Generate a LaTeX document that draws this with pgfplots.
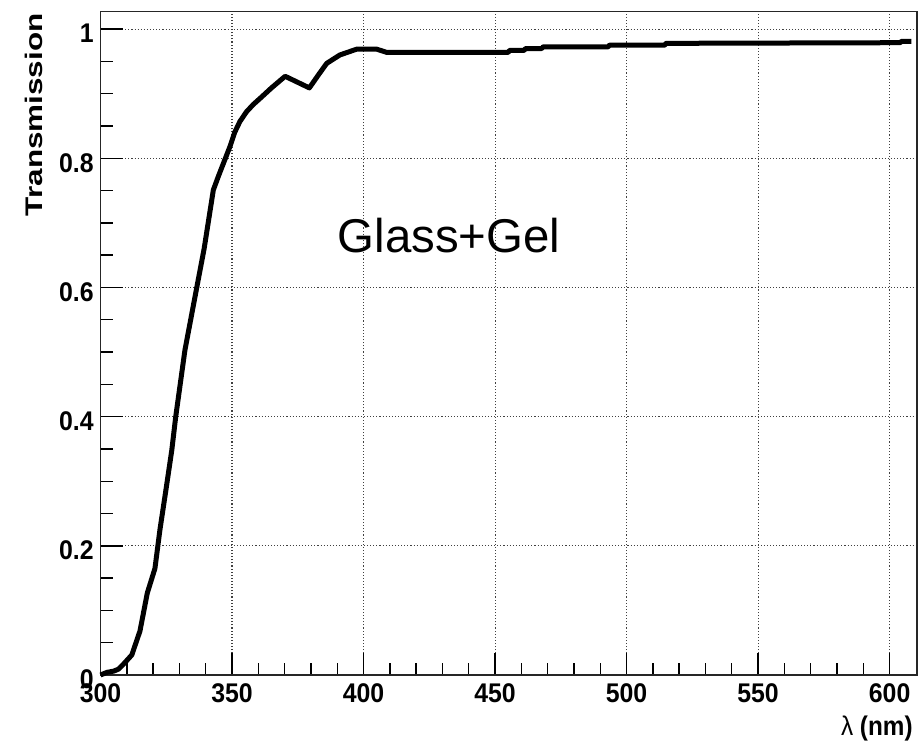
\documentclass[border=0pt]{standalone}
\usepackage{pgfplots}
\pgfplotsset{compat=1.18}
\usepackage{fontspec}
\setmainfont{Liberation Sans}
\begin{document}
\begin{tikzpicture}
\begin{axis}[
  scale only axis,
  width=408.1bp, height=331.65bp,
  xmin=300, xmax=610.3, ymin=0, ymax=1.027,
  xtick={300,350,400,450,500,550,600},
  ytick={0,0.2,0.4,0.6,0.8,1},
  minor x tick num=4,
  minor y tick num=3,
  tick align=inside,
  xtick pos=bottom, ytick pos=left,
  major tick length=11bp, minor tick length=6bp,
  every tick/.style={black, line width=0.7bp},
  axis line style={black!85, line width=0.8bp},
  grid=major,
  major grid style={black!75, line width=0.55bp, dash pattern=on 0.55bp off 1bp},
  /pgf/number format/assume math mode=true,
  xticklabel={\scalebox{0.92}[1]{\pgfmathprintnumber{\tick}}},
  yticklabel={\scalebox{0.92}[1]{\pgfmathprintnumber{\tick}}},
  xticklabel style={font=\bfseries\fontsize{13.5bp}{15bp}\selectfont, inner sep=0pt, anchor=north, yshift=-4bp},
  yticklabel style={font=\bfseries\fontsize{13.5bp}{15bp}\selectfont, inner sep=0pt, anchor=east, xshift=-3.25bp, yshift=-2.2bp},
  clip=false,
]
\addplot[black, line width=2.5bp, line join=round] coordinates {
(300,0.000) (302.4,0.004) (305,0.006) (306.8,0.009) (309,0.018) (311.9,0.031)
(315.0,0.068) (317.8,0.127) (320.7,0.165) (322.6,0.225) (325,0.29) (327.1,0.348)
(328.6,0.400) (332.1,0.503) (336.6,0.600) (339.4,0.660) (342.9,0.751) (344.8,0.772)
(349.2,0.818) (351,0.840) (353,0.857) (355.5,0.872) (358,0.883) (361,0.894)
(365,0.909) (370.2,0.927) (379.4,0.909)
(383,0.930) (386.0,0.947) (391.0,0.960) (397.4,0.969) (405.0,0.969) (408.8,0.964)
(455.0,0.964) (455.5,0.967) (461.0,0.967) (461.6,0.970) (467.7,0.970) (468.3,0.9726)
(493,0.9726) (493.5,0.9752) (514.5,0.9752) (515,0.978) (604,0.979) (604.5,0.981) (608.3,0.981)
};
\node[anchor=base, inner sep=0pt, font=\fontsize{23.7bp}{28bp}\selectfont] at (axis cs:432.5,0.654) {Glass+Gel};
\node[anchor=east, rotate=90, inner sep=0pt, font=\bfseries\fontsize{12bp}{14bp}\selectfont]
  at ([xshift=-33.25bp, yshift=-0.65bp]rel axis cs:0,1) {\scalebox{1.31}[1]{Transmission}};
\node[anchor=east, inner sep=0pt, font=\bfseries\fontsize{13.5bp}{15bp}\selectfont]
  at ([xshift=-1.85bp, yshift=-27bp]rel axis cs:1,0) {\scalebox{0.9}[1]{{\mdseries λ} (nm)}};
\path (rel axis cs:0,0) ++(-50.25bp,-36bp) rectangle ++(459.5bp,373.5bp);
\end{axis}
\end{tikzpicture}
\end{document}
